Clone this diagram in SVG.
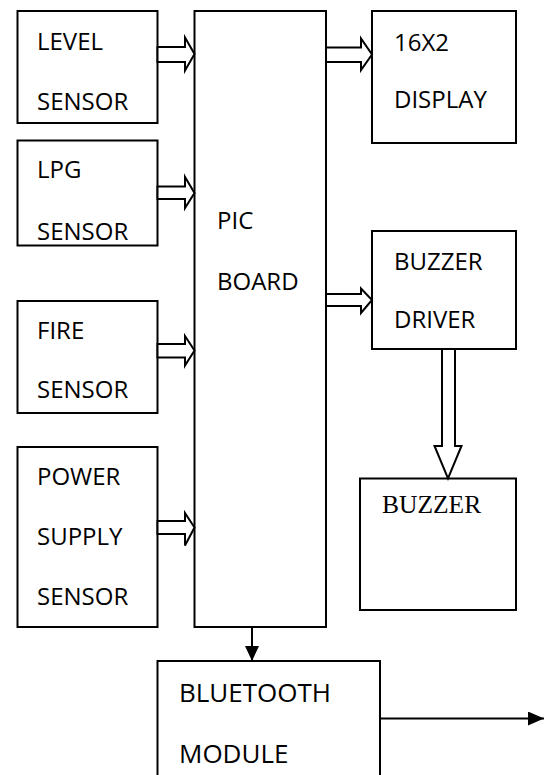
<svg xmlns="http://www.w3.org/2000/svg" width="545" height="775" viewBox="0 0 545 775">
<defs>
<style>
.box{fill:#fff;stroke:#000;stroke-width:2}
.t{font-family:"Open Sans","Liberation Sans",sans-serif;font-size:24px;fill:#000}
.tb{font-family:"Open Sans","Liberation Sans",sans-serif;font-size:26px;fill:#000}
.ts{font-family:"Liberation Serif","Times New Roman",serif;font-size:25.5px;fill:#000}
.ha{fill:#fff;stroke:#000;stroke-width:2;stroke-linejoin:miter}
.ln{fill:none;stroke:#000;stroke-width:2}
</style>
<marker id="tri" viewBox="0 0 15 14" refX="15" refY="7" markerWidth="15" markerHeight="14" markerUnits="userSpaceOnUse" orient="auto">
<path d="M0,0 L15,7 L0,14 Z" fill="#000"/>
</marker>
<marker id="tri2" viewBox="0 0 16 14" refX="16" refY="7" markerWidth="16" markerHeight="14" markerUnits="userSpaceOnUse" orient="auto">
<path d="M0,0 L16,7 L0,14 Z" fill="#000"/>
</marker>
</defs>
<rect width="545" height="775" fill="#fff"/>
<g id="level">
<rect class="box" x="17.5" y="11" width="140" height="112"/>
<text class="t" x="37" y="50">LEVEL</text>
<text class="t" x="37" y="110">SENSOR</text>
</g>
<g id="lpg">
<rect class="box" x="17.5" y="140.5" width="140" height="105"/>
<text class="t" x="37" y="178">LPG</text>
<text class="t" x="37" y="240">SENSOR</text>
</g>
<g id="fire">
<rect class="box" x="17.5" y="301" width="140" height="112"/>
<text class="t" x="37" y="339">FIRE</text>
<text class="t" x="37" y="398">SENSOR</text>
</g>
<g id="power">
<rect class="box" x="17.5" y="447" width="140" height="180"/>
<text class="t" x="37" y="485">POWER</text>
<text class="t" x="37" y="545">SUPPLY</text>
<text class="t" x="37" y="605">SENSOR</text>
</g>
<g id="pic">
<rect class="box" x="194.5" y="11" width="131.5" height="616"/>
<text class="t" x="217" y="229">PIC</text>
<text class="t" x="217" y="290">BOARD</text>
</g>
<g id="display">
<rect class="box" x="372" y="11" width="144" height="132"/>
<text class="t" x="394" y="51">16X2</text>
<text class="t" x="394" y="108">DISPLAY</text>
</g>
<g id="driver">
<rect class="box" x="372" y="231" width="144" height="118"/>
<text class="t" x="394" y="270">BUZZER</text>
<text class="t" x="394" y="328">DRIVER</text>
</g>
<g id="buzzer">
<rect class="box" x="360" y="478.5" width="156" height="131.5"/>
<text class="ts" x="382" y="513">BUZZER</text>
</g>
<g id="bluetooth">
<rect class="box" x="157.5" y="661" width="222.5" height="140"/>
<text class="tb" x="179" y="702">BLUETOOTH</text>
<text class="tb" x="179" y="763">MODULE</text>
</g>
<g id="connectors">
<polygon class="ha" points="157.5,47 185,47 185,37.5 194.5,54 185,70.5 185,62 157.5,62"/>
<polygon class="ha" points="157.5,186.5 185,186.5 185,177 194.5,193 185,208 185,199 157.5,199"/>
<polygon class="ha" points="157.5,344 185,344 185,336 194.5,350.5 185,365.5 185,357.5 157.5,357.5"/>
<polygon class="ha" points="157.5,521 185,521 185,513 194.5,527.5 185,545.5 185,534 157.5,534"/>
<polygon class="ha" points="326,47.5 361,47.5 361,38.5 372,54.5 361,70 361,62 326,62"/>
<polygon class="ha" points="326,294 361,294 361,288.5 372,300 361,313 361,306 326,306"/>
<polygon class="ha" points="442,349 442,446 434.5,446 448,478.5 461.5,446 455,446 455,349"/>
<line class="ln" x1="252" y1="627" x2="252" y2="661" marker-end="url(#tri)"/>
<line class="ln" x1="380" y1="718.5" x2="544" y2="718.5" marker-end="url(#tri2)"/>
</g>
</svg>
